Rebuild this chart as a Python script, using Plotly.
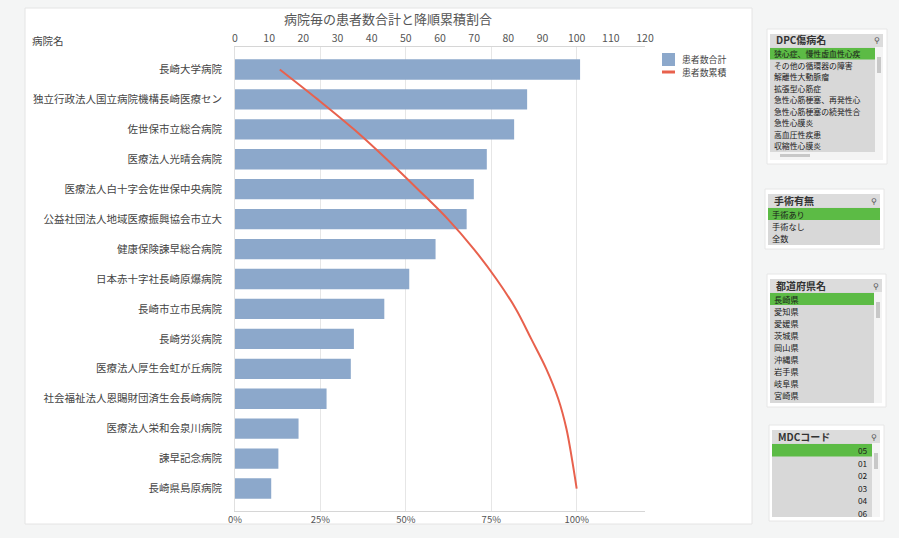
import plotly.graph_objects as go

# ---------------- data ----------------
hospitals = [
    "長崎大学病院",
    "独立行政法人国立病院機構長崎医療セン",
    "佐世保市立総合病院",
    "医療法人光晴会病院",
    "医療法人白十字会佐世保中央病院",
    "公益社団法人地域医療振興協会市立大",
    "健康保険諫早総合病院",
    "日本赤十字社長崎原爆病院",
    "長崎市立市民病院",
    "長崎労災病院",
    "医療法人厚生会虹が丘病院",
    "社会福祉法人恩賜財団済生会長崎病院",
    "医療法人栄和会泉川病院",
    "諫早記念病院",
    "長崎県島原病院",
]
patients = [101, 85.5, 81.7, 73.7, 69.9, 67.8, 58.7, 51, 43.7, 34.8, 33.9, 26.8, 18.6, 12.7, 10.6]
cum_share = [0.131, 0.242, 0.348, 0.444, 0.535, 0.623, 0.699, 0.765, 0.822, 0.867,
             0.911, 0.946, 0.970, 0.986, 1.000]

title_text = "病院毎の患者数合計と降順累積割合"
yaxis_label = "病院名"
legend_labels = ["患者数合計", "患者数累積"]

dpc_title = "DPC傷病名"
dpc_items = ["狭心症、慢性虚血性心疾", "その他の循環器の障害", "解離性大動脈瘤", "拡張型心筋症",
             "急性心筋梗塞、再発性心", "急性心筋梗塞の続発性合", "急性心膜炎", "高血圧性疾患", "収縮性心膜炎"]
surg_title = "手術有無"
surg_items = ["手術あり", "手術なし", "全数"]
pref_title = "都道府県名"
pref_items = ["長崎県", "愛知県", "愛媛県", "茨城県", "岡山県", "沖縄県", "岩手県", "岐阜県", "宮崎県"]
mdc_title = "MDCコード"
mdc_items = ["05", "01", "02", "03", "04", "06"]

# ---------------- styles ----------------
FONT = "Noto Sans CJK JP"
BAR_COLOR = "#8ca8cb"
LINE_COLOR = "#e8614d"
TEXT = "#444444"
GREEN = "#5cbb45"
LIST_BG = "#d8d8d8"

W, H = 899, 538
L, R, T, B = 235, 645, 47, 511


def px(x):
    return (x - L) / (R - L)


def py(y):
    return (B - y) / (B - T)


shapes = []
annos = []


def rect(x0, y0, x1, y1, fill, line=None, lw=0, layer="below"):
    shapes.append(dict(type="rect", xref="paper", yref="paper",
                       x0=px(x0), x1=px(x1), y0=py(y1), y1=py(y0),
                       fillcolor=fill, line=dict(color=line or fill, width=lw), layer=layer))


def text(x, y, s, size=10, color="#222222", xanchor="left", bold=False):
    annos.append(dict(xref="paper", yref="paper", x=px(x), y=py(y), text=("<b>%s</b>" % s) if bold else s,
                      showarrow=False, xanchor=xanchor, yanchor="middle",
                      font=dict(family=FONT, size=size, color=color)))


# chart panel
rect(25, 8, 752, 524, "#ffffff", "#e4e4e4", 1)

# title + axis label
text(388, 18, title_text, size=13, color="#555555", xanchor="center")
text(30, 41, yaxis_label, size=10.5, color=TEXT)

# manual legend
rect(662, 53, 675, 66, BAR_COLOR, layer="above")
text(680, 59, legend_labels[0], size=8.9, color=TEXT)
shapes.append(dict(type="line", xref="paper", yref="paper", x0=px(662), x1=px(675), y0=py(72), y1=py(72),
                   line=dict(color=LINE_COLOR, width=3)))
text(680, 72, legend_labels[1], size=8.9, color=TEXT)


def listbox(x0, x1, y_top, title, items, row_h=12, align="left", vscroll=False,
            hscroll=False, bottom=None):
    n = len(items)
    list_top = y_top + 13
    list_bot = bottom if bottom is not None else list_top + n * row_h + 2
    rect(x0 - 3, y_top - 5, x1 + 4, list_bot + 4, "#ffffff", "#e6e6e6", 1)
    rect(x0, y_top, x1, list_top, "#dcdcdc")
    rect(x0, list_top, x1, list_bot, LIST_BG)
    text(x0 + 4, y_top + 6, title, size=10, color="#333333", bold=True)
    text(x1 - 6, y_top + 6, "⚲", size=8, color="#555555", xanchor="center")
    sx = x1 - 8 if vscroll else x1
    fs = min(8.3, (row_h - 0.1) / 1.45)
    for i, it in enumerate(items):
        yc = list_top + row_h / 2 + 1 + i * row_h
        if yc + 3 > list_bot:
            break
        if i == 0:
            rect(x0, yc - row_h / 2, sx, yc + row_h / 2, GREEN)
        if align == "left":
            text(x0 + 2, yc, it, size=fs, color="#1a1a1a")
        else:
            text(sx - 2, yc, it, size=fs, color="#1a1a1a", xanchor="right")
    if vscroll:
        rect(x1 - 8, list_top, x1, list_bot, "#f4f4f4")
        rect(x1 - 6, list_top + 10, x1 - 2, list_top + 26, "#c8c8c8")
    if hscroll:
        rect(x0, list_bot - 8, x1, list_bot, "#f4f4f4")
        rect(x0 + 10, list_bot - 6, x0 + 40, list_bot - 3, "#c8c8c8")


listbox(770, 883, 34, dpc_title, dpc_items, row_h=11.5, vscroll=True, hscroll=True, bottom=160)
listbox(768, 880, 194, surg_title, surg_items, row_h=12)
listbox(770, 882, 279, pref_title, pref_items, row_h=12, vscroll=True, bottom=403)
listbox(772, 880, 430, mdc_title, mdc_items, row_h=12.5, align="right", vscroll=True, bottom=517)

fig = go.Figure()
fig.add_trace(go.Bar(x=patients, y=hospitals, orientation="h", marker=dict(color=BAR_COLOR, line=dict(width=0)),
                     width=0.68, xaxis="x", yaxis="y", showlegend=False))
fig.add_trace(go.Scatter(x=cum_share, y=hospitals, mode="lines", line=dict(color=LINE_COLOR, width=2, shape="spline"),
                         xaxis="x2", yaxis="y", showlegend=False))

fig.update_layout(
    width=W, height=H,
    margin=dict(l=L, r=W - R, t=T, b=H - B, autoexpand=False),
    paper_bgcolor="#f4f5f5", plot_bgcolor="rgba(0,0,0,0)",
    font=dict(family=FONT, color=TEXT),
    showlegend=False,
    xaxis=dict(side="top", range=[0, 120], dtick=10, tick0=0, showgrid=False, zeroline=False,
               showline=True, linecolor="#d6d6d6", ticks="", tickfont=dict(size=10.5, color="#555555"),
               fixedrange=True, automargin=False),
    xaxis2=dict(overlaying="x", side="bottom", anchor="y", range=[0, 1.2], dtick=0.25, tick0=0,
                tickformat=".0%", showgrid=True, gridcolor="#e6e6e6", zeroline=False, showline=True,
                linecolor="#d6d6d6", ticks="", tickfont=dict(size=9.5, color="#555555"), automargin=False),
    yaxis=dict(type="category", range=[14.75, -0.75], showgrid=False, showline=True, linecolor="#e0e0e0",
               ticks="", ticklabelstandoff=10, tickfont=dict(size=10.5, color="#444444"), automargin=False),
    shapes=shapes, annotations=annos, bargap=0.3,
)

fig.write_html("out.html", config={"displayModeBar": False},
               post_script="document.body.style.margin='0';")
